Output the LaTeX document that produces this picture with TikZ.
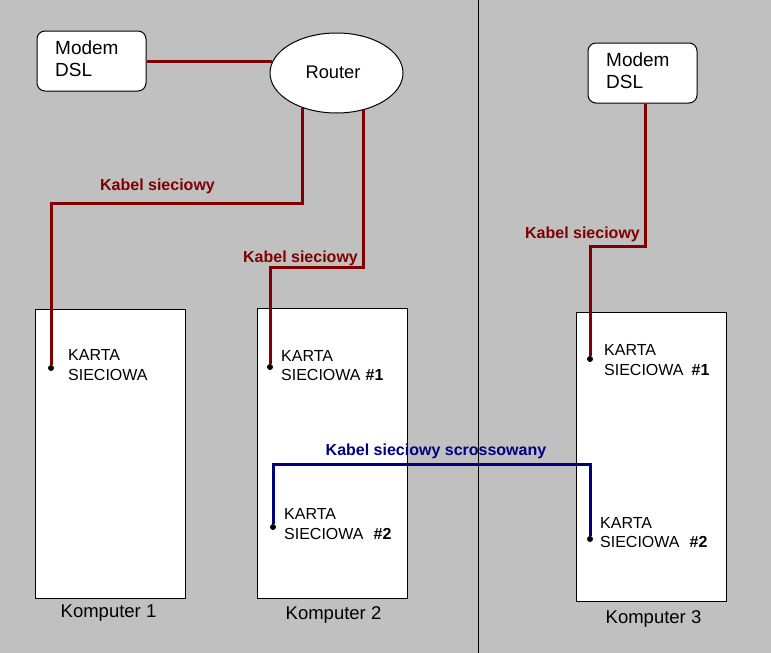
\documentclass[tikz,border=0pt]{standalone}
\usepackage{fontspec}
\setmainfont{Liberation Sans}
\usetikzlibrary{shapes.geometric}
\definecolor{bg}{HTML}{C0C0C0}
\definecolor{cablered}{HTML}{800000}
\definecolor{cableblue}{HTML}{000080}
\tikzset{
  pcbox/.style={draw=black, line width=1pt, fill=white, minimum width=150pt, inner sep=0pt},
  modembox/.style={draw=black, line width=1pt, fill=white, rounded corners=8pt, minimum width=109pt, minimum height=60pt, inner sep=0pt},
  routershape/.style={ellipse, draw=black, line width=1pt, fill=white, minimum width=133pt, minimum height=80pt, inner sep=0pt},
  boxtext/.style={align=left, anchor=west, inner sep=0pt, font=\fontsize{19}{22}\selectfont},
  cardtext/.style={align=left, anchor=west, inner sep=0pt, font=\fontsize{16}{19.5}\selectfont},
  pclabel/.style={inner sep=0pt, font=\fontsize{18.5}{22}\selectfont},
  cablelabel/.style={inner sep=0pt, font=\fontsize{16}{19}\selectfont\bfseries},
  redcable/.style={draw=cablered, line width=3pt},
  bluecable/.style={draw=cableblue, line width=3pt},
  port/.style={circle, fill=black, minimum size=6pt, inner sep=0pt},
}
\begin{document}
\begin{tikzpicture}[x=1pt, y=-1pt]
\useasboundingbox[fill=bg] (0,0) rectangle (771,653);
% divider
\coordinate (divtop) at (478,0);
\coordinate (divbot) at (478,653);
\draw[line width=1pt] (divtop) -- (divbot);

% computers
\node[pcbox, minimum height=289pt] (pc1) at (110,453.5) {};
\node[pcbox, minimum height=290pt] (pc2) at (332,453) {};
\node[pcbox, minimum height=289pt] (pc3) at (651,456.5) {};

% modems and router
\node[modembox] (m1) at (91.5,61) {};
\node[boxtext] (m1t) at (55,59) {Modem\\DSL};
\node[modembox] (m2) at (642.5,73) {};
\node[boxtext] (m2t) at (606,71) {Modem\\DSL};
\node[routershape] (router) at (336.5,73) {};
\node[pclabel, font=\fontsize{18.3}{22}\selectfont] (routert) at (333,72) {Router};

% network cards
\node[cardtext] (c1t) at (68,365) {KARTA\\SIECIOWA};
\node[cardtext] (c2at) at (281,365.5) {KARTA\\SIECIOWA\hspace{5pt}\textbf{\#1}};
\node[cardtext] (c2bt) at (284,524) {KARTA\\SIECIOWA\hspace{10pt}\textbf{\#2}};
\node[cardtext] (c3at) at (604,360) {KARTA\\SIECIOWA\hspace{8pt}\textbf{\#1}};
\node[cardtext] (c3bt) at (600,532.5) {KARTA\\SIECIOWA\hspace{10pt}\textbf{\#2}};

% computer labels
\node[pclabel] (l1) at (108.5,613) {Komputer 1};
\node[pclabel] (l2) at (333.5,615) {Komputer 2};
\node[pclabel] (l3) at (653.5,619) {Komputer 3};

% bend points
\coordinate (b1) at (51,203);
\coordinate (b2) at (270,267);
\coordinate (b3) at (590,246);
\coordinate (b5) at (590,464);

% ports
\node[port] (d1) at (51,368) {};
\node[port] (d2a) at (270,367) {};
\node[port] (d2b) at (273,527) {};
\node[port] (d3a) at (590,359) {};
\node[port] (d3b) at (590,539) {};

% cables
\draw[redcable] (m1.east) -- ([xshift=2.6pt]m1.east -| router.west);
\draw[redcable] (router.-134.2) |- (b1) -- (d1);
\draw[redcable] (router.-54.2) |- (b2) -- (d2a);
\draw[redcable] ([xshift=2.5pt]m2.south) |- (b3) -- (d3a);
\draw[bluecable] (d2b) |- (b5) -- (d3b);

% cable labels
\node[cablelabel, text=cablered] (k1) at (157.5,186) {Kabel sieciowy};
\node[cablelabel, text=cablered] (k2) at (300.5,258) {Kabel sieciowy};
\node[cablelabel, text=cablered] (k3) at (582.5,234) {Kabel sieciowy};
\node[cablelabel, text=cableblue] (k4) at (436,451) {Kabel sieciowy scrossowany};
\end{tikzpicture}
\end{document}
